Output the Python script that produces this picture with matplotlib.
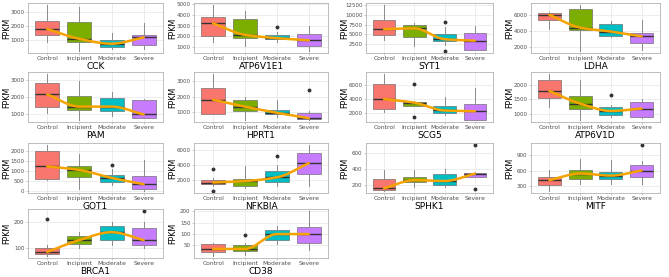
import numpy as np
import matplotlib
matplotlib.use("Agg")
import matplotlib.pyplot as plt

groups = ["Control", "Incipient", "Moderate", "Severe"]
fills = ["#F8766D", "#7CAE00", "#00BFC4", "#C77CFF"]

genes = ["CCK", "ATP6V1E1", "SYT1", "LDHA",
         "PAM", "HPRT1", "SCG5", "ATP6V1D",
         "GOT1", "NFKBIA", "SPHK1", "MITF",
         "BRCA1", "CD38"]

# per gene: rows = groups, cols = whislo, q1, med, q3, whishi
cck = [[850, 1350, 1750, 2350, 3450], [200, 800, 1050, 2250, 3300],
       [300, 450, 700, 1000, 1500], [350, 600, 1150, 1300, 2200]]
atp6v1e1 = [[1500, 2050, 3200, 3750, 4850], [1100, 1900, 2150, 3600, 4300],
            [1500, 1750, 1850, 2150, 2400], [700, 1100, 1650, 2200, 3000]]
syt1 = [[3500, 4700, 6300, 8800, 12500], [2000, 4300, 6500, 7400, 8000],
        [2300, 3200, 3700, 5000, 6800], [1000, 1000, 3300, 5200, 7000]]
ldha = [[4200, 5300, 6000, 6250, 6400], [1500, 4100, 4400, 6700, 7200],
        [3200, 3400, 3900, 4800, 5200], [1600, 2500, 3300, 3700, 5400]]
pam = [[1100, 1400, 2150, 2800, 3300], [700, 1250, 1450, 2050, 2900],
       [900, 1200, 1450, 1950, 2300], [800, 800, 1000, 1800, 1900]]
hprt1 = [[850, 850, 1800, 2550, 3450], [500, 1050, 1350, 1800, 1950],
         [700, 850, 950, 1150, 1800], [500, 550, 600, 950, 1050]]
scg5 = [[2200, 2600, 4000, 6100, 7500], [3000, 3000, 3500, 3600, 3700],
        [1800, 2100, 2400, 3000, 4300], [1100, 1100, 2300, 3300, 5600]]
atp6v1d = [[1250, 1550, 1780, 2150, 2350], [800, 1150, 1350, 1600, 2150],
           [900, 950, 1100, 1230, 1300], [850, 900, 1180, 1400, 1500]]
got1 = [[550, 600, 1230, 2000, 2300], [100, 700, 1050, 1250, 1850],
        [300, 450, 650, 800, 1100], [0, 100, 330, 750, 1550]]
nfkbia = [[1300, 1450, 1700, 2000, 2300], [900, 1200, 1900, 2200, 3900],
          [1300, 1800, 2400, 3200, 4100], [1200, 2900, 4300, 5600, 6700]]
sphk1 = [[130, 140, 160, 270, 380], [180, 240, 260, 300, 390],
         [170, 200, 250, 340, 400], [300, 300, 340, 350, 360]]
mitf = [[200, 310, 410, 480, 620], [330, 430, 540, 620, 830],
        [330, 430, 500, 580, 800], [340, 470, 600, 700, 780]]
brca1 = [[70, 75, 85, 100, 110], [100, 115, 130, 145, 160],
         [110, 130, 160, 185, 200], [100, 110, 130, 175, 200]]
cd38 = [[5, 20, 35, 55, 60], [10, 25, 35, 50, 60],
        [55, 75, 100, 120, 135], [30, 60, 100, 130, 200]]

stats = [cck, atp6v1e1, syt1, ldha, pam, hprt1, scg5, atp6v1d,
         got1, nfkbia, sphk1, mitf, brca1, cd38]

outliers = [
    [[], [], [], []],
    [[], [], [2850], []],
    [[], [], [8200, 700], []],
    [[], [], [], []],
    [[], [], [], []],
    [[], [], [], [2400]],
    [[], [6200, 1500], [], []],
    [[], [], [1650], []],
    [[], [], [1300], []],
    [[3500, 600], [], [5200], []],
    [[], [], [], [690, 150]],
    [[], [], [], [1100]],
    [[210], [], [], [240]],
    [[], [95], [], []],
]

yticks = [
    [1000, 2000, 3000], [1000, 2000, 3000, 4000, 5000],
    [2500, 5000, 7500, 10000, 12500], [2000, 4000, 6000],
    [1000, 2000, 3000], [1000, 2000, 3000],
    [2000, 4000, 6000], [1000, 1500, 2000],
    [0, 500, 1000, 1500, 2000], [2000, 4000, 6000],
    [200, 400, 600], [300, 600, 900],
    [100, 200], [50, 100, 150, 200],
]


def pchip(xk, yk, xs):
    # monotone cubic through the group medians
    xk = np.asarray(xk, float)
    yk = np.asarray(yk, float)
    h = np.diff(xk)
    d = np.diff(yk) / h
    m = np.zeros_like(yk)
    for k in range(1, len(xk) - 1):
        if d[k - 1] * d[k] > 0:
            m[k] = 2 / (1 / d[k - 1] + 1 / d[k])
    m[0] = d[0]
    m[-1] = d[-1]
    out = np.empty_like(xs)
    for n, xv in enumerate(xs):
        k = min(int(np.searchsorted(xk, xv, side="right")) - 1, len(xk) - 2)
        t = (xv - xk[k]) / h[k]
        h00 = 2 * t**3 - 3 * t**2 + 1
        h10 = t**3 - 2 * t**2 + t
        h01 = -2 * t**3 + 3 * t**2
        h11 = t**3 - t**2
        out[n] = (h00 * yk[k] + h10 * h[k] * m[k]
                  + h01 * yk[k + 1] + h11 * h[k] * m[k + 1])
    return out


W, H = 669, 277
fig = plt.figure(figsize=(W / 100, H / 100), dpi=100)

col_left = [28, 194, 366, 531]
col_right = [163, 328, 493, 660]
row_top = [3, 72, 143, 209]
row_bot = [53, 122, 193, 258]

x = np.arange(1, 5)
for i, g in enumerate(genes):
    r, c = divmod(i, 4)
    l, rt = col_left[c], col_right[c]
    t, b = row_top[r], row_bot[r]
    ax = fig.add_axes([l / W, 1 - b / H, (rt - l) / W, (b - t) / H])

    bx = []
    for j in range(4):
        lo, q1, med, q3, hi = stats[i][j]
        bx.append(dict(whislo=lo, q1=q1, med=med, q3=q3, whishi=hi,
                       fliers=outliers[i][j]))
    res = ax.bxp(bx, positions=x, widths=0.75, patch_artist=True,
                 showcaps=False,
                 boxprops=dict(edgecolor="#5a5a5a", linewidth=0.4),
                 whiskerprops=dict(color="#8a8a8a", linewidth=0.7),
                 medianprops=dict(color="#333333", linewidth=1.0),
                 flierprops=dict(marker="o", markersize=1.8,
                                 markerfacecolor="#333333",
                                 markeredgecolor="#333333"))
    for p, f in zip(res["boxes"], fills):
        p.set_facecolor(f)
        p.set_zorder(2)

    meds = [s[2] for s in stats[i]]
    xs = np.linspace(1, 4, 120)
    ax.plot(xs, pchip(x, meds, xs), color="#F5A300", linewidth=1.8,
            zorder=4, solid_capstyle="round")

    ax.set_xlim(0.4, 4.6)
    ax.margins(y=0.05)
    ax.set_yticks(yticks[i])
    ax.set_xticks(x)
    ax.set_xticklabels(groups)
    ax.set_xlabel(g, fontsize=6.5, labelpad=0.5)
    ax.set_ylabel("FPKM", fontsize=5.8)
    # ylabel anchor is its right edge; keep it clear of the tick labels
    ax.yaxis.set_label_coords(-17.0 / (rt - l), 0.5)
    ax.tick_params(axis="x", labelsize=4.3, length=1.5, width=0.5, pad=1,
                   colors="#b3b3b3", labelcolor="#4d4d4d")
    ax.tick_params(axis="y", labelsize=4.0, length=1.5, width=0.5, pad=1,
                   colors="#b3b3b3", labelcolor="#4d4d4d")
    for s in ax.spines.values():
        s.set_color("#b3b3b3")
        s.set_linewidth(0.6)
    ax.grid(True, color="#e6e6e6", linewidth=0.5, zorder=0)
    ax.set_axisbelow(True)

fig.savefig("out.png", dpi=100)
